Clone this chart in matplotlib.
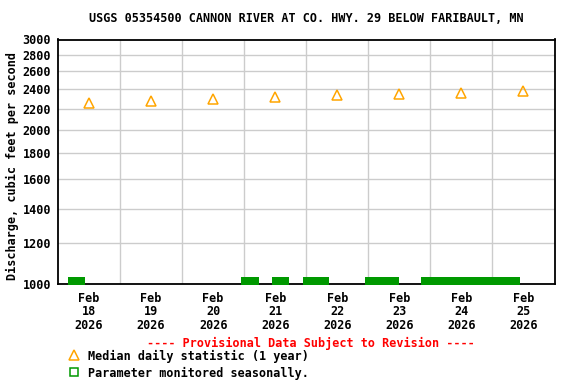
# - Librerías:

import pandas as pd
import matplotlib
matplotlib.use("Agg")
import matplotlib.pyplot as plt
import matplotlib.dates as mdates
from matplotlib.ticker import FixedLocator, NullLocator, FuncFormatter

# - Datos:

days = pd.date_range("2026-02-18 12:00", periods=8, freq="D")
median_cfs = [2255, 2273, 2292, 2312, 2335, 2350, 2364, 2378]

seasonal_start = ["2026-02-18 03:45", "2026-02-20 22:45", "2026-02-21 10:35",
                  "2026-02-21 22:45", "2026-02-22 22:45", "2026-02-23 20:25"]
seasonal_end = ["2026-02-18 10:35", "2026-02-21 05:40", "2026-02-21 17:30",
                "2026-02-22 08:45", "2026-02-23 11:50", "2026-02-25 10:45"]

y_ticks = [1000, 1200, 1400, 1600, 1800, 2000, 2200, 2400, 2600, 2800, 3000]
x_labels = ["Feb\n18\n2026", "Feb\n19\n2026", "Feb\n20\n2026", "Feb\n21\n2026",
            "Feb\n22\n2026", "Feb\n23\n2026", "Feb\n24\n2026", "Feb\n25\n2026"]

title = "USGS 05354500 CANNON RIVER AT CO. HWY. 29 BELOW FARIBAULT, MN"

# - Estilo:

plt.rcParams["font.family"] = "DejaVu Sans Mono"
plt.rcParams["font.weight"] = "bold"
fs = 8.5
orange = "#FFA500"
green = "#009900"
grid_c = "#CCCCCC"

fig = plt.figure(figsize=(5.76, 3.84), dpi=100)
ax = fig.add_axes([58 / 576, 1 - 284 / 384, 496.5 / 576, 244.5 / 384])

# - Mediana diaria:

ax.plot(days, median_cfs, linestyle="none", marker="^", markersize=7,
        markerfacecolor="none", markeredgecolor=orange, markeredgewidth=1.1, zorder=3)

# - Periodos de monitoreo estacional (barras verdes):

starts = mdates.date2num(pd.to_datetime(seasonal_start))
ends = mdates.date2num(pd.to_datetime(seasonal_end))
xranges = [(s, e - s) for s, e in zip(starts, ends)]
ax.broken_barh(xranges, (-0.004, 0.033), facecolors=green,
               transform=ax.get_xaxis_transform(), clip_on=False, zorder=4)

# - Ejes:

ax.set_yscale("log")
ax.set_ylim(1000, 3000)
ax.yaxis.set_major_locator(FixedLocator(y_ticks))
ax.yaxis.set_minor_locator(NullLocator())
ax.yaxis.set_major_formatter(FuncFormatter(lambda v, p: f"{v:.0f}"))

ax.set_xlim(pd.Timestamp("2026-02-18"), pd.Timestamp("2026-02-26"))
ax.set_xticks(days)
ax.set_xticklabels(x_labels, linespacing=1.05)
ax.set_xticks(pd.date_range("2026-02-19", periods=7, freq="D"), minor=True)

ax.tick_params(axis="both", which="both", length=0, labelsize=fs)
ax.tick_params(axis="y", pad=5)
ax.tick_params(axis="x", pad=5.5)

ax.grid(True, axis="y", which="major", color=grid_c, linewidth=1)
ax.grid(True, axis="x", which="minor", color=grid_c, linewidth=1)
ax.grid(False, axis="x", which="major")
ax.set_axisbelow(True)
for sp in ax.spines.values():
    sp.set_linewidth(1.3)
    sp.set_color("black")

# - Textos:

fig.text(306 / 576, 1 - 19 / 384, title, ha="center", va="center", fontsize=fs)
fig.text(12 / 576, 1 - 166 / 384, "Discharge, cubic feet per second", rotation=90,
         ha="center", va="center", fontsize=fs)
fig.text(311 / 576, 1 - 343 / 384, "---- Provisional Data Subject to Revision ----",
         ha="center", va="center", fontsize=fs, color="red")

# - Leyenda manual:

ax.plot([74 / 576], [1 - 355 / 384], transform=fig.transFigure, clip_on=False,
        marker="^", markersize=7, markerfacecolor="none", markeredgecolor=orange,
        markeredgewidth=1.1, linestyle="none")
ax.plot([74 / 576], [1 - 372 / 384], transform=fig.transFigure, clip_on=False,
        marker="s", markersize=6, markerfacecolor="none", markeredgecolor=green,
        markeredgewidth=1.1, linestyle="none")
fig.text(88 / 576, 1 - 356 / 384, "Median daily statistic (1 year)",
         ha="left", va="center", fontsize=fs)
fig.text(88 / 576, 1 - 373 / 384, "Parameter monitored seasonally.",
         ha="left", va="center", fontsize=fs)

# - Guardado:

fig.savefig("out.png", dpi=100)
